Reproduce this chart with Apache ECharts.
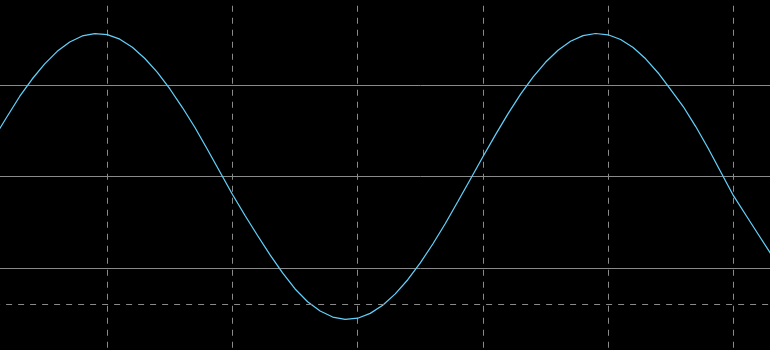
<!DOCTYPE html>
<html>
<head>
<meta charset="utf-8">
<script src="https://cdn.jsdelivr.net/npm/echarts@6/dist/echarts.min.js"></script>
<style>
  html, body { margin: 0; padding: 0; background: #000; overflow: hidden; width: 770px; height: 350px; }
  #wrap { position: relative; width: 770px; height: 350px; overflow: hidden; }
  #chart { position: absolute; left: -20px; top: -10px; width: 900px; height: 380px; }
</style>
</head>
<body>
<div id="wrap"><div id="chart"></div></div>
<script>
// Time positions (in horizontal divisions)
const timeDiv = [
  -0.9, -0.8, -0.7, -0.6, -0.5, -0.4, -0.3, -0.2, -0.1,
  0.0, 0.1, 0.2, 0.3, 0.4, 0.5, 0.6, 0.7, 0.8, 0.9,
  1.0, 1.1, 1.2, 1.3, 1.4, 1.5, 1.6, 1.7, 1.8, 1.9,
  2.0, 2.1, 2.2, 2.3, 2.4, 2.5, 2.6, 2.7, 2.8, 2.9,
  3.0, 3.1, 3.2, 3.3, 3.4, 3.5, 3.6, 3.7, 3.8, 3.9,
  4.0, 4.1, 4.2, 4.3, 4.4, 4.5, 4.6, 4.7, 4.8, 4.9,
  5.0, 5.1, 5.2, 5.3
];
// Signal level (in vertical divisions)
const signal = [
  0.433, 0.657, 0.876, 1.067, 1.233, 1.370, 1.472, 1.538, 1.564,
  1.553, 1.503, 1.415, 1.291, 1.139, 0.958, 0.755, 0.537, 0.296, 0.050,
  -0.196, -0.426, -0.645, -0.858, -1.055, -1.230, -1.370, -1.471, -1.537, -1.562,
  -1.550, -1.497, -1.409, -1.284, -1.129, -0.945, -0.738, -0.514, -0.273, -0.029,
  0.216, 0.456, 0.685, 0.898, 1.088, 1.250, 1.382, 1.480, 1.542, 1.565,
  1.551, 1.499, 1.412, 1.288, 1.133, 0.952, 0.766, 0.547, 0.307, 0.050,
  -0.207, -0.421, -0.634, -0.847
];
// Dashed reference level
const refLevel = -1.4;

const points = timeDiv.map((t, i) => [t, signal[i]]);

const chart = echarts.init(document.getElementById('chart'), null, { renderer: 'canvas' });
chart.setOption({
  backgroundColor: '#000000',
  animation: false,
  grid: { left: 2.1, right: 21.5, top: 3.74, bottom: 10.66, containLabel: false },
  xAxis: {
    type: 'value',
    min: -1, max: 6, interval: 1,
    axisLine: { show: false }, axisTick: { show: false }, axisLabel: { show: false },
    splitLine: { show: true, lineStyle: { color: '#8a8a8a', width: 1, type: [6, 6] } }
  },
  yAxis: {
    type: 'value',
    min: -2, max: 2, interval: 1,
    axisLine: { show: false }, axisTick: { show: false }, axisLabel: { show: false },
    splitLine: { show: true, lineStyle: { color: '#8a8a8a', width: 1, type: 'solid' } }
  },
  series: [{
    type: 'line',
    data: points,
    showSymbol: false,
    smooth: false,
    lineStyle: { color: '#62d0fa', width: 1.25 },
    markLine: {
      silent: true,
      symbol: 'none',
      label: { show: false },
      lineStyle: { color: '#8a8a8a', width: 1, type: [6, 6] },
      data: [{ yAxis: refLevel }]
    }
  }]
});
</script>
</body>
</html>
